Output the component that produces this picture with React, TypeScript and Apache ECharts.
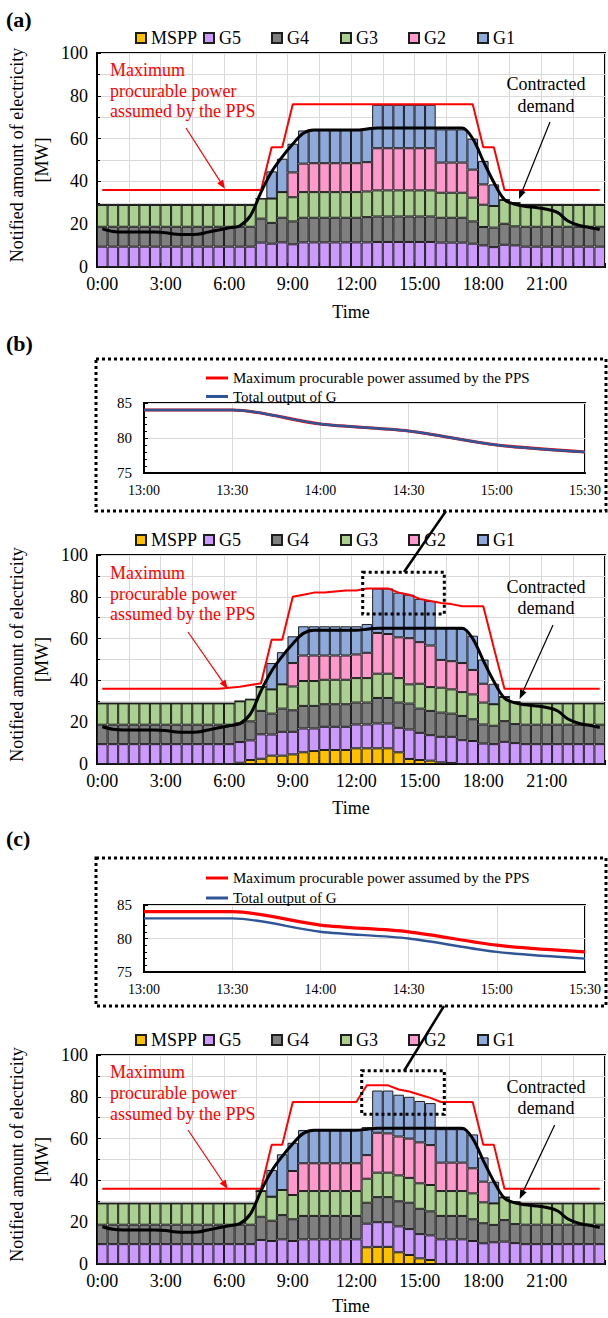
import React, { useEffect, useRef } from 'react';
import * as echarts from 'echarts';

const FONT = '"Liberation Serif", "Times New Roman", serif';

const timeLabels = ['0:00','0:30','1:00','1:30','2:00','2:30','3:00','3:30','4:00','4:30','5:00','5:30','6:00','6:30','7:00','7:30','8:00','8:30','9:00','9:30','10:00','10:30','11:00','11:30','12:00','12:30','13:00','13:30','14:00','14:30','15:00','15:30','16:00','16:30','17:00','17:30','18:00','18:30','19:00','19:30','20:00','20:30','21:00','21:30','22:00','22:30','23:00','23:30'];
const insetTimes = ['13:00','13:30','14:00','14:30','15:00','15:30'];
const stackNames = ['MSPP','G5','G4','G3','G2','G1'];
const stackColors = ['#FFC000','#CC99FF','#7F7F7F','#A9D08E','#FF99CC','#8EA9DB'];

// Contracted demand (same in all panels)
const contractedDemand = [17.8,16.6,16.3,16.3,16.3,16.3,16.0,15.3,15.2,15.3,16.3,17.3,18.3,19.3,24,35,44.5,51.5,57.5,62.5,64,64,64,64,64,64.5,65,65,65,65,65,65,65,65,65,60,49.5,39.5,31.5,29.3,28.3,27.8,27,25.5,21.5,19.5,18.5,17.5];

// Panel (a)
const aMSPP = [0,0,0,0,0,0,0,0,0,0,0,0,0,0,0,0,0,0,0,0,0,0,0,0,0,0,0,0,0,0,0,0,0,0,0,0,0,0,0,0,0,0,0,0,0,0,0,0];
const aG5 = [9.5,9.5,9.5,9.5,9.5,9.5,9.5,9.5,9.5,9.5,9.5,9.5,9.5,9.5,9.5,11.4,10.9,11.5,10.6,11.5,11.5,11.5,11.5,11.5,11.5,11.5,11.7,11.7,11.7,11.7,11.7,11.7,11.4,11.4,11.4,10.9,10.1,9.3,10.4,10.1,9.5,9.5,9.5,9.5,9.5,9.5,9.5,9.5];
const aG4 = [9.3,9.3,9.3,9.3,9.3,9.3,9.3,9.3,9.3,9.3,9.3,9.3,9.3,9.3,9.3,11.2,9.7,11.5,10.7,11.5,11.5,11.5,11.5,11.5,11.5,11.8,11.9,11.9,11.9,11.9,11.9,11.9,11.6,11.6,11.6,10.4,8.6,9.1,9.8,8.9,9.3,9.3,9.3,9.3,9.3,9.3,9.3,9.3];
const aG3 = [10.2,10.2,10.2,10.2,10.2,10.2,10.2,10.2,10.2,10.2,10.2,10.2,10.2,10.2,10.2,9.4,11.4,12,11.3,12,12,12,12,12,12,12,12.2,12.2,12.2,12.2,12.2,12.2,11.7,11.7,11.7,11.1,10.4,10.1,11.1,10.9,10.2,10.2,10.2,10.2,10.2,10.2,10.2,10.2];
const aG2 = [0,0,0,0,0,0,0,0,0,0,0,0,0,0,0,0,0,0,11.6,13.3,13.5,13.5,13.5,13.5,13.5,13.7,19.7,19.7,19.7,19.7,19.7,19.7,14.1,14.1,14.1,13.1,9.5,0,0,0,0,0,0,0,0,0,0,0];
const aG1 = [0,0,0,0,0,0,0,0,0,0,0,0,0,0,0,0,12.7,15.6,13.4,15.5,15.5,15.5,15.5,15.5,15.5,15.5,20.3,20.3,20.3,20.3,20.3,20.3,15.5,15.5,15.5,14.5,10.9,10.1,0,0,0,0,0,0,0,0,0,0];
const aMaxPower = [36,36,36,36,36,36,36,36,36,36,36,36,36,36,36,36,56,56,76,76,76,76,76,76,76,76,76,76,76,76,76,76,76,76,76,76,56,56,36,36,36,36,36,36,36,36,36,36];

// Panel (b)
const bMSPP = [0,0,0,0,0,0,0,0,0,0,0,0,0,0.6,1.9,2.5,4,4,4.6,5.6,6.2,6.7,6.7,6.7,7.5,7.5,7.5,7.5,5.6,2.4,1.9,1.6,0.8,0.5,0,0,0,0,0,0,0,0,0,0,0,0,0,0];
const bG5 = [9.5,9.5,9.5,9.5,9.5,9.5,9.5,9.5,9.5,9.5,9.5,9.5,9.5,9.9,9.4,11.7,10.1,11.4,10.8,11.4,10.8,11.1,11.1,11.1,11.4,11.4,11.9,11.9,11.7,14.1,13,12.2,12.2,12.5,11.4,11,9.8,9.5,10.6,10,9.5,9.5,9.5,9.5,9.5,9.5,9.5,9.5];
const bG4 = [9.3,9.3,9.3,9.3,9.3,9.3,9.3,9.3,9.3,9.3,9.3,9.3,9.3,9.0,9.1,11.2,10,11.1,10.3,10.8,10.8,10.8,10.8,10.8,10.5,10.5,12.2,12.2,12.1,12.4,11.6,11.6,11.6,11.1,11.6,10.4,9.1,8.8,9.9,9.1,9.3,9.3,9.3,9.3,9.3,9.3,9.3,9.3];
const bG3 = [10.2,10.2,10.2,10.2,10.2,10.2,10.2,10.2,10.2,10.2,10.2,10.2,10.2,10.5,10.5,11.6,11.6,11.6,11.4,11.9,11.9,11.7,11.7,11.7,11.7,11.7,11.6,11.6,11.7,9.2,11.9,11.4,11.9,11.6,11.4,11.9,10.5,10.3,11.6,10.5,10.2,10.2,10.2,10.2,10.2,10.2,10.2,10.2];
const bG2 = [0,0,0,0,0,0,0,0,0,0,0,0,0,0,0,0,0,0,11.2,12.2,12.2,11.6,11.6,11.6,11.3,12.1,19.5,19,19.5,22.1,19.9,19.9,13.3,13.5,13.9,11.7,9,0,0,0,0,0,0,0,0,0,0,0];
const bG1 = [0,0,0,0,0,0,0,0,0,0,0,0,0,0,0,0,12.6,15.4,12.8,14,14,14,14,14,13.5,13.8,21.3,21.8,21.4,20.8,20.7,21.3,15.7,16.3,16.3,16.4,11.6,9.8,0,0,0,0,0,0,0,0,0,0];
const bMaxPower = [36,36,36,36,36,36,36,36,36,36,36,36,36.5,37,37.8,38.6,59.5,59.5,80,81,82,82,82.5,83,83,84,84,84,82,81,79,78,77,76.5,75.5,75.5,75.5,55.5,36,36,36,36,36,36,36,36,36,36];

// Panel (c)
const cMSPP = [0,0,0,0,0,0,0,0,0,0,0,0,0,0,0,0,0,0,0,0,0,0,0,0,0,8,8.2,8.2,5.6,4.3,2.7,1.9,0,0,0,0,0,0,0,0,0,0,0,0,0,0,0,0];
const cG5 = [9.5,9.5,9.5,9.5,9.5,9.5,9.5,9.5,9.5,9.5,9.5,9.5,9.5,9.5,9.5,11.5,11,11.8,11,11.8,11.8,11.8,11.8,11.8,11.8,11.3,11.8,11.8,12.4,12.4,11.6,11.8,11.8,11.8,11.8,11,9.9,10.4,10.7,10,9.5,9.5,9.5,9.5,9.5,9.5,9.5,9.5];
const cG4 = [9.3,9.3,9.3,9.3,9.3,9.3,9.3,9.3,9.3,9.3,9.3,9.3,9.3,9.3,9.3,11.1,9.7,11.6,10.4,11.2,11.2,11.2,11.2,11.2,11.2,10,12,12,12,12.6,12.1,11.5,11.2,11.2,11.2,10.4,9.6,8.3,10.3,9.1,9.3,9.3,9.3,9.3,9.3,9.3,9.3,9.3];
const cG3 = [10.2,10.2,10.2,10.2,10.2,10.2,10.2,10.2,10.2,10.2,10.2,10.2,10.2,10.2,10.2,12.3,11.5,12,11.6,11.9,11.9,11.9,11.9,11.9,11.9,11.5,11.7,11.7,12.4,11.9,12.2,12.6,11.9,11.9,11.9,12.4,10,10.3,10.9,10.5,10.2,10.2,10.2,10.2,10.2,10.2,10.2,10.2];
const cG2 = [0,0,0,0,0,0,0,0,0,0,0,0,0,0,0,0,0,0,11.5,13.3,13.3,13.3,13.3,13.3,13.3,11.3,19.1,18.8,18.6,18.8,19.6,19.1,13.6,13.6,13.6,12,9.9,0,0,0,0,0,0,0,0,0,0,0];
const cG1 = [0,0,0,0,0,0,0,0,0,0,0,0,0,0,0,0,12.8,17.1,13.5,15.9,15.9,15.9,15.9,15.9,15.9,13.4,20.2,20.5,20,20,19.8,20.1,16,16,16,16.2,11.6,10.4,0,0,0,0,0,0,0,0,0,0];
const cMaxPower = [36,36,36,36,36,36,36,36,36,36,36,36,36,36,36,36,57,57,77.5,77.5,77.5,77.5,77.5,77.5,77.5,85.5,85.5,85.5,83.5,82.5,81,79.5,77.5,77.5,77.5,77.5,57,57,36,36,36,36,36,36,36,36,36,36];

// Insets
const bInsetMax = [84,84,82,81,79,78];
const bInsetG = [84,84,82,81,79,78];
const cInsetMax = [84,84,82,81,79,78];
const cInsetG = [83,83,81,80,78,77];

const INSET_MAX_NAME = 'Maximum procurable power assumed by the PPS';
const INSET_G_NAME = 'Total output of G';

const LEGEND_LEFTS = [135, 203, 271, 340, 408, 477];

function buildOption() {
  const mains = [
    { top: 53, height: 214, nameGap: 36, legendTop: 29, stacks: [aMSPP, aG5, aG4, aG3, aG2, aG1], red: aMaxPower },
    { top: 555, height: 209, nameGap: 35, legendTop: 531, stacks: [bMSPP, bG5, bG4, bG3, bG2, bG1], red: bMaxPower },
    { top: 1055, height: 209, nameGap: 33, legendTop: 1031, stacks: [cMSPP, cG5, cG4, cG3, cG2, cG1], red: cMaxPower },
  ];
  const insets = [
    { top: 403, height: 70, legendTop: 365, gap: 2.5, red: bInsetMax, blue: bInsetG },
    { top: 905, height: 67, legendTop: 865, gap: 4, red: cInsetMax, blue: cInsetG },
  ];

  const grid: any[] = [];
  const xAxis: any[] = [];
  const yAxis: any[] = [];
  const series: any[] = [];
  const legend: any[] = [];

  mains.forEach((m, p) => {
    grid.push({ left: 97, top: m.top, width: 508, height: m.height, show: true, borderColor: '#000', borderWidth: 2, backgroundColor: '#fff' });
    xAxis.push({
      gridIndex: p, type: 'category', data: timeLabels, boundaryGap: true,
      axisLine: { show: true, lineStyle: { color: '#000', width: 2 } },
      axisTick: { show: true, interval: 2, inside: true, length: 4, lineStyle: { color: '#000' } },
      axisLabel: { interval: 5, fontSize: 18, color: '#000', margin: 8, fontFamily: FONT },
      splitLine: { show: true, interval: 2, lineStyle: { color: '#d9d9d9', width: 1 } },
      name: 'Time', nameLocation: 'middle', nameGap: m.nameGap,
      nameTextStyle: { fontSize: 18, color: '#000', fontFamily: FONT },
    });
    yAxis.push({
      gridIndex: p, type: 'value', min: 0, max: 100, interval: 20,
      axisLine: { show: true, lineStyle: { color: '#000', width: 2 } },
      axisTick: { show: true, inside: true, length: 4, lineStyle: { color: '#000' } },
      minorTick: { show: true, splitNumber: 2, length: 3, lineStyle: { color: '#000' } },
      axisLabel: { fontSize: 18, color: '#000', margin: 9, fontFamily: FONT },
      splitLine: { show: true, lineStyle: { color: '#d9d9d9', width: 1 } },
      minorSplitLine: { show: true, lineStyle: { color: '#d9d9d9', width: 1 } },
    });
    m.stacks.forEach((d, k) => {
      series.push({
        name: stackNames[k], type: 'bar', stack: 'panel' + p, xAxisIndex: p, yAxisIndex: p,
        data: d, barCategoryGap: '0%',
        itemStyle: { color: stackColors[k], borderColor: '#1e1e1e', borderWidth: 1 },
        emphasis: { disabled: true },
      });
    });
    series.push({
      name: 'Maximum procurable power (main ' + p + ')', type: 'line', xAxisIndex: p, yAxisIndex: p,
      data: m.red, symbol: 'none', smooth: false,
      lineStyle: { color: '#ff0000', width: 2 }, itemStyle: { color: '#ff0000' }, z: 5,
    });
    series.push({
      name: 'Contracted demand (main ' + p + ')', type: 'line', xAxisIndex: p, yAxisIndex: p,
      data: contractedDemand, symbol: 'none', smooth: 0.35,
      lineStyle: { color: '#000', width: 3 }, itemStyle: { color: '#000' }, z: 6,
    });
    stackNames.forEach((nm, k) => {
      legend.push({
        data: [nm], left: LEGEND_LEFTS[k], top: m.legendTop, itemWidth: 10, itemHeight: 10,
        icon: 'rect', selectedMode: false, padding: 0,
        textStyle: { fontSize: 18, color: '#000', fontFamily: FONT, lineHeight: 18 },
      });
    });
  });

  insets.forEach((s, q) => {
    const gi = 3 + q;
    grid.push({ left: 144, top: s.top, width: 441, height: s.height, show: true, borderColor: '#000', borderWidth: 2, backgroundColor: '#fff' });
    xAxis.push({
      gridIndex: gi, type: 'category', data: insetTimes, boundaryGap: false,
      axisLine: { show: true, lineStyle: { color: '#000', width: 2 } },
      axisTick: { show: false },
      axisLabel: { fontSize: 14, color: '#000', margin: 10, fontFamily: FONT },
      splitLine: { show: true, lineStyle: { color: '#d9d9d9', width: 1 } },
    });
    yAxis.push({
      gridIndex: gi, type: 'value', min: 75, max: 85, interval: 5,
      axisLine: { show: true, lineStyle: { color: '#000', width: 2 } },
      axisTick: { show: true, inside: true, length: 4, lineStyle: { color: '#000' } },
      minorTick: { show: true, splitNumber: 5, length: 3, lineStyle: { color: '#000' } },
      axisLabel: { fontSize: 15, color: '#000', margin: 12, fontFamily: FONT },
      splitLine: { show: true, lineStyle: { color: '#d9d9d9', width: 1 } },
    });
    series.push({
      name: INSET_MAX_NAME, type: 'line', xAxisIndex: gi, yAxisIndex: gi, data: s.red,
      symbol: 'none', smooth: 0.3, lineStyle: { color: '#ff0000', width: 3.2 }, itemStyle: { color: '#ff0000' }, z: 5,
    });
    series.push({
      name: INSET_G_NAME, type: 'line', xAxisIndex: gi, yAxisIndex: gi, data: s.blue,
      symbol: 'none', smooth: 0.3, lineStyle: { color: '#2F5597', width: 2.4 }, itemStyle: { color: '#2F5597' }, z: 6,
    });
    legend.push({
      data: [INSET_MAX_NAME, INSET_G_NAME], orient: 'vertical', left: 201, top: s.legendTop,
      itemGap: s.gap, itemWidth: 22, itemHeight: 3, icon: 'rect', selectedMode: false,
      textStyle: { fontSize: 15, color: '#000', fontFamily: FONT, lineHeight: 16 },
    });
  });

  const txt = (text: string, x: number, y: number, o: any = {}) => ({
    type: 'text', x, y, z: 100, rotation: o.rot || 0,
    style: {
      text, fill: o.color || '#000', fontSize: o.size || 18, fontFamily: FONT, fontWeight: o.weight || 'normal',
      align: o.align || 'left', verticalAlign: 'middle', textAlign: o.align || 'left', textVerticalAlign: 'middle',
    },
  });
  const arrow = (x1: number, y1: number, x2: number, y2: number, color: string, lw = 1.2) => {
    const ang = Math.atan2(y2 - y1, x2 - x1);
    const L = 9, W = 3.5;
    const bx = x2 - L * Math.cos(ang), by = y2 - L * Math.sin(ang);
    const px = -Math.sin(ang) * W, py = Math.cos(ang) * W;
    return [
      { type: 'line', z: 100, shape: { x1, y1, x2: bx, y2: by }, style: { stroke: color, lineWidth: lw } },
      { type: 'polygon', z: 100, shape: { points: [[x2, y2], [bx + px, by + py], [bx - px, by - py]] }, style: { fill: color } },
    ];
  };
  const dotted = (x: number, y: number, w: number, h: number) => ({
    type: 'rect', z: 100, shape: { x, y, width: w, height: h },
    style: { fill: 'rgba(0,0,0,0)', stroke: '#000', lineWidth: 3, lineDash: [3, 3] },
  });

  const elements: any[] = [];
  elements.push(txt('(a)', 6, 19, { size: 22, weight: 'bold' }));
  elements.push(txt('(b)', 6, 343, { size: 22, weight: 'bold' }));
  elements.push(txt('(c)', 6, 838, { size: 22, weight: 'bold' }));

  const ann = [
    { mid: 160, red: [70, 90.7, 111], con: [84, 106], ra: [186, 128, 225, 189], ba: [550, 122, 519, 199] },
    { mid: 659.5, red: [573.3, 594.3, 614], con: [586.7, 608.3], ra: [188, 632, 227.7, 689], ba: [553, 625, 519.6, 699] },
    { mid: 1159.5, red: [1072.3, 1093.3, 1114], con: [1086.7, 1108.3], ra: [188, 1130, 227.7, 1189], ba: [554.7, 1125, 519.6, 1199] },
  ];
  ann.forEach((a) => {
    elements.push(txt('Notified amount of electricity', 17, a.mid - 5, { align: 'center', rot: Math.PI / 2 }));
    elements.push(txt('[MW]', 42, a.mid, { align: 'center', rot: Math.PI / 2 }));
    elements.push(txt('Maximum', 110, a.red[0], { color: '#ff0000' }));
    elements.push(txt('procurable power', 110, a.red[1], { color: '#ff0000' }));
    elements.push(txt('assumed by the PPS', 110, a.red[2], { color: '#ff0000' }));
    elements.push(txt('Contracted', 546, a.con[0], { align: 'center' }));
    elements.push(txt('demand', 546, a.con[1], { align: 'center' }));
    elements.push(...arrow(a.ra[0], a.ra[1], a.ra[2], a.ra[3], '#ff0000'));
    elements.push(...arrow(a.ba[0], a.ba[1], a.ba[2], a.ba[3], '#000'));
  });

  elements.push(dotted(96, 359, 510, 152));
  elements.push(dotted(96, 858, 510, 148));
  elements.push(dotted(362.7, 572.3, 81.6, 41.7));
  elements.push(dotted(361.7, 1070.7, 82.6, 43.6));
  elements.push({ type: 'line', z: 100, shape: { x1: 404, y1: 572, x2: 446, y2: 511 }, style: { stroke: '#000', lineWidth: 2.5 } });
  elements.push({ type: 'line', z: 100, shape: { x1: 404, y1: 1071, x2: 444, y2: 1006 }, style: { stroke: '#000', lineWidth: 2.5 } });

  return {
    animation: false,
    backgroundColor: '#fff',
    textStyle: { fontFamily: FONT },
    grid, xAxis, yAxis, series, legend,
    graphic: { elements },
  };
}

export default function App() {
  const ref = useRef<HTMLDivElement>(null);
  useEffect(() => {
    document.body.style.margin = '0';
    const chart = echarts.init(ref.current as HTMLDivElement, undefined, { renderer: 'svg' });
    chart.setOption(buildOption() as any);
    return () => chart.dispose();
  }, []);
  return <div ref={ref} style={{ width: 608, height: 1318, position: 'absolute', left: 0, top: 0, background: '#fff' }} />;
}
